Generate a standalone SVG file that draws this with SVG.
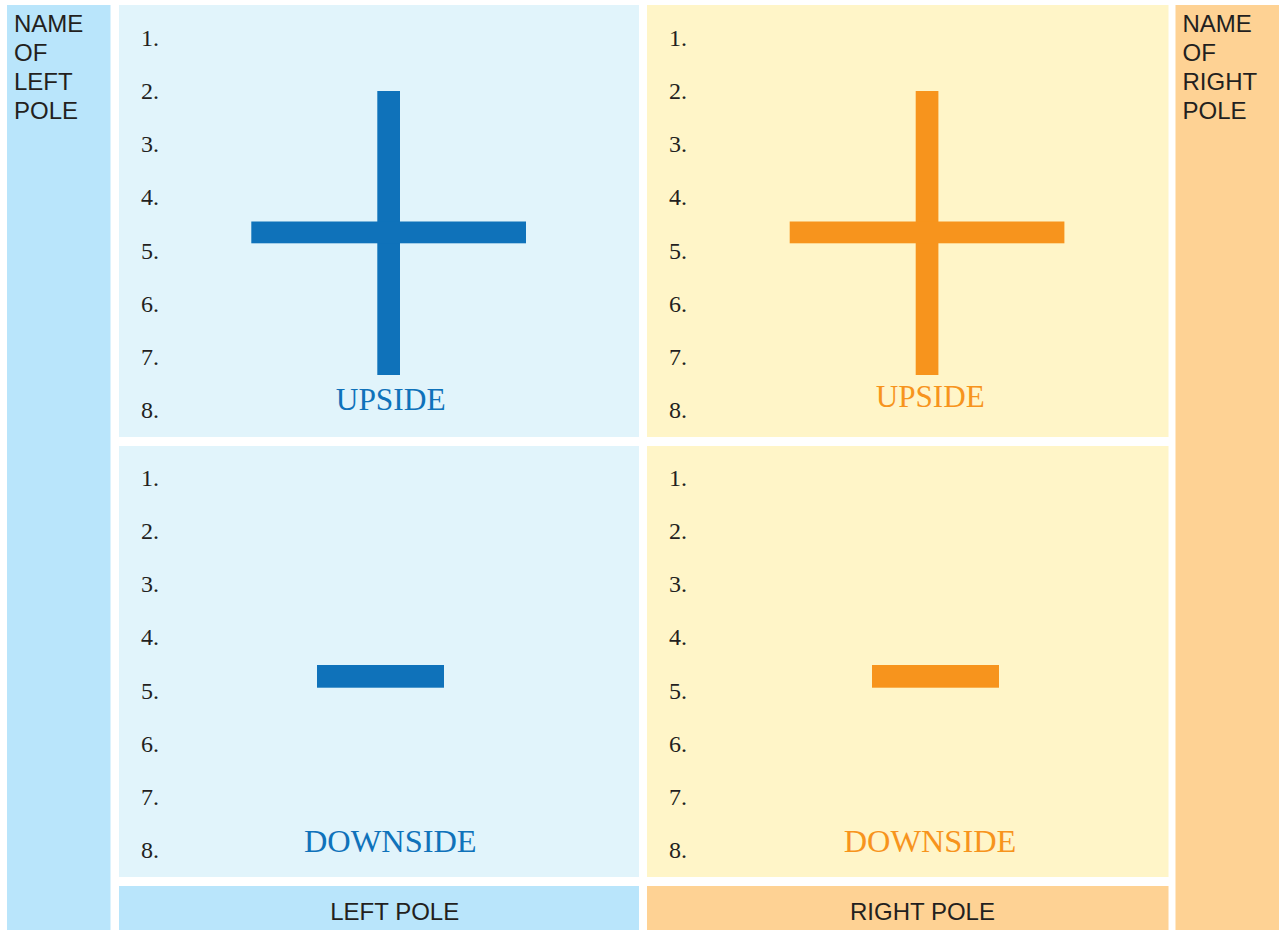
<svg xmlns="http://www.w3.org/2000/svg" width="1283" height="930" viewBox="0 0 1283 930">
<style>
.lbar{fill:#b9e5fb}
.lpan{fill:#e1f4fb}
.rbar{fill:#fed294}
.rpan{fill:#fff5c8}
.blue{fill:#0f72ba}
.orng{fill:#f7941d}
.num{font-family:"Liberation Serif","DejaVu Serif",serif;font-size:24px;fill:#231f20}
.sans{font-family:"Liberation Sans","DejaVu Sans",sans-serif;font-size:24px;fill:#231f20}
.big{font-family:"Liberation Serif","DejaVu Serif",serif;font-size:31px;text-anchor:middle}
</style>
<rect width="1283" height="930" fill="#ffffff"/>

<g id="left-name">
<rect class="lbar" x="7" y="5" width="103.5" height="925"/>
<text class="sans"><tspan x="14" y="31.5">NAME</tspan><tspan x="14" y="60.5">OF</tspan><tspan x="14" y="90">LEFT</tspan><tspan x="14" y="119">POLE</tspan></text>
</g>

<g id="right-name">
<rect class="rbar" x="1175.5" y="5" width="103.5" height="925"/>
<text class="sans"><tspan x="1182.5" y="31.5">NAME</tspan><tspan x="1182.5" y="60.5">OF</tspan><tspan x="1182.5" y="90">RIGHT</tspan><tspan x="1182.5" y="119">POLE</tspan></text>
</g>

<g id="left-upside">
<rect class="lpan" x="119" y="5" width="520" height="432"/>
<text class="num" x="141" y="45.7">1.</text>
<text class="num" x="141" y="98.9">2.</text>
<text class="num" x="141" y="152.1">3.</text>
<text class="num" x="141" y="205.3">4.</text>
<text class="num" x="141" y="258.5">5.</text>
<text class="num" x="141" y="311.7">6.</text>
<text class="num" x="141" y="364.9">7.</text>
<text class="num" x="141" y="418">8.</text>
<rect class="blue" x="377.3" y="91" width="22.7" height="284"/>
<rect class="blue" x="251.3" y="221.5" width="274.7" height="21.8"/>
<text class="big blue" x="390.7" y="410" textLength="110" lengthAdjust="spacingAndGlyphs">UPSIDE</text>
</g>

<g id="left-downside">
<rect class="lpan" x="119" y="446" width="520" height="431"/>
<text class="num" x="141" y="485.7">1.</text>
<text class="num" x="141" y="538.9">2.</text>
<text class="num" x="141" y="592.1">3.</text>
<text class="num" x="141" y="645.3">4.</text>
<text class="num" x="141" y="698.5">5.</text>
<text class="num" x="141" y="751.7">6.</text>
<text class="num" x="141" y="804.9">7.</text>
<text class="num" x="141" y="858">8.</text>
<rect class="blue" x="317" y="665" width="127" height="22.7"/>
<text class="big blue" x="390.3" y="851.7" textLength="172.7" lengthAdjust="spacingAndGlyphs">DOWNSIDE</text>
</g>

<g id="left-pole">
<rect class="lbar" x="119" y="886" width="520" height="44"/>
<text class="sans" x="394.7" y="920" text-anchor="middle">LEFT POLE</text>
</g>

<g id="right-upside">
<rect class="rpan" x="647" y="5" width="521.5" height="432"/>
<text class="num" x="669" y="45.7">1.</text>
<text class="num" x="669" y="98.9">2.</text>
<text class="num" x="669" y="152.1">3.</text>
<text class="num" x="669" y="205.3">4.</text>
<text class="num" x="669" y="258.5">5.</text>
<text class="num" x="669" y="311.7">6.</text>
<text class="num" x="669" y="364.9">7.</text>
<text class="num" x="669" y="418">8.</text>
<rect class="orng" x="915.7" y="91" width="22.7" height="284"/>
<rect class="orng" x="789.7" y="221.5" width="274.7" height="21.8"/>
<text class="big orng" x="930.2" y="406.7" textLength="109" lengthAdjust="spacingAndGlyphs">UPSIDE</text>
</g>

<g id="right-downside">
<rect class="rpan" x="647" y="446" width="521.5" height="431"/>
<text class="num" x="669" y="485.7">1.</text>
<text class="num" x="669" y="538.9">2.</text>
<text class="num" x="669" y="592.1">3.</text>
<text class="num" x="669" y="645.3">4.</text>
<text class="num" x="669" y="698.5">5.</text>
<text class="num" x="669" y="751.7">6.</text>
<text class="num" x="669" y="804.9">7.</text>
<text class="num" x="669" y="858">8.</text>
<rect class="orng" x="872" y="665" width="127" height="22.7"/>
<text class="big orng" x="930" y="851.7" textLength="172.7" lengthAdjust="spacingAndGlyphs">DOWNSIDE</text>
</g>

<g id="right-pole">
<rect class="rbar" x="647" y="886" width="521.5" height="44"/>
<text class="sans" x="922.5" y="920" text-anchor="middle">RIGHT POLE</text>
</g>

<g id="connectors"></g>
</svg>
